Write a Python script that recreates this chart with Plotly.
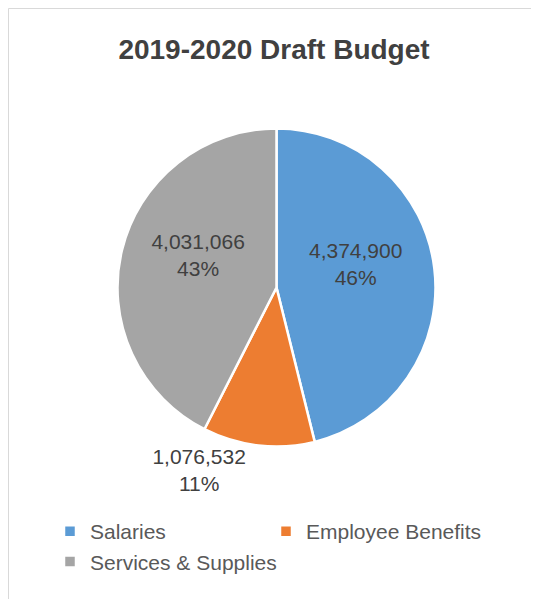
import plotly.graph_objects as go

categories = ["Salaries", "Employee Benefits", "Services & Supplies"]
values = [4374900, 1076532, 4031066]
colors = ["#5B9BD5", "#ED7D31", "#A5A5A5"]
text_positions = ["inside", "outside", "inside"]
text_templates = [
    "%{value:,.0f}<br>%{percent:.0%}<br> ",
    "%{value:,.0f}<br>%{percent:.0%}",
    "%{value:,.0f}<br>%{percent:.0%}<br> ",
]

# page has an 8px body margin, so the figure is sized to fit the 539x607 window
W, H = 531, 591

cx, cy, r = 268.5, 279.5, 159

fig = go.Figure(go.Pie(
    labels=categories,
    values=values,
    sort=False,
    direction="clockwise",
    rotation=0,
    marker=dict(colors=colors, line=dict(color="white", width=2.5)),
    textposition=text_positions,
    texttemplate=text_templates,
    insidetextorientation="horizontal",
    textfont=dict(family="Liberation Sans", size=21, color="#404040"),
    domain=dict(x=[(cx - r) / W, (cx + r) / W], y=[1 - (cy + r) / H, 1 - (cy - r) / H]),
    hoverinfo="label+value+percent",
))

fig.update_layout(
    width=W, height=H,
    margin=dict(l=0, r=0, t=0, b=0),
    paper_bgcolor="white",
    title=dict(text="<b>2019-2020 Draft Budget</b>", x=266 / W, xanchor="center",
               y=1 - 41 / H, yanchor="middle",
               font=dict(family="Liberation Sans", size=28, color="#404040")),
    legend=dict(orientation="h", x=42 / W, xanchor="left", y=1 - 503 / H, yanchor="top",
                entrywidth=171, entrywidthmode="pixels",
                font=dict(family="Liberation Sans", size=21, color="#595959")),
    shapes=[dict(type="rect", xref="paper", yref="paper",
                 x0=0.5 / W, x1=529 / W, y0=1 - 594 / H, y1=1 - 0.5 / H,
                 line=dict(color="#D9D9D9", width=1), fillcolor="rgba(0,0,0,0)", layer="below")],
)

fig.write_html("out.html")
